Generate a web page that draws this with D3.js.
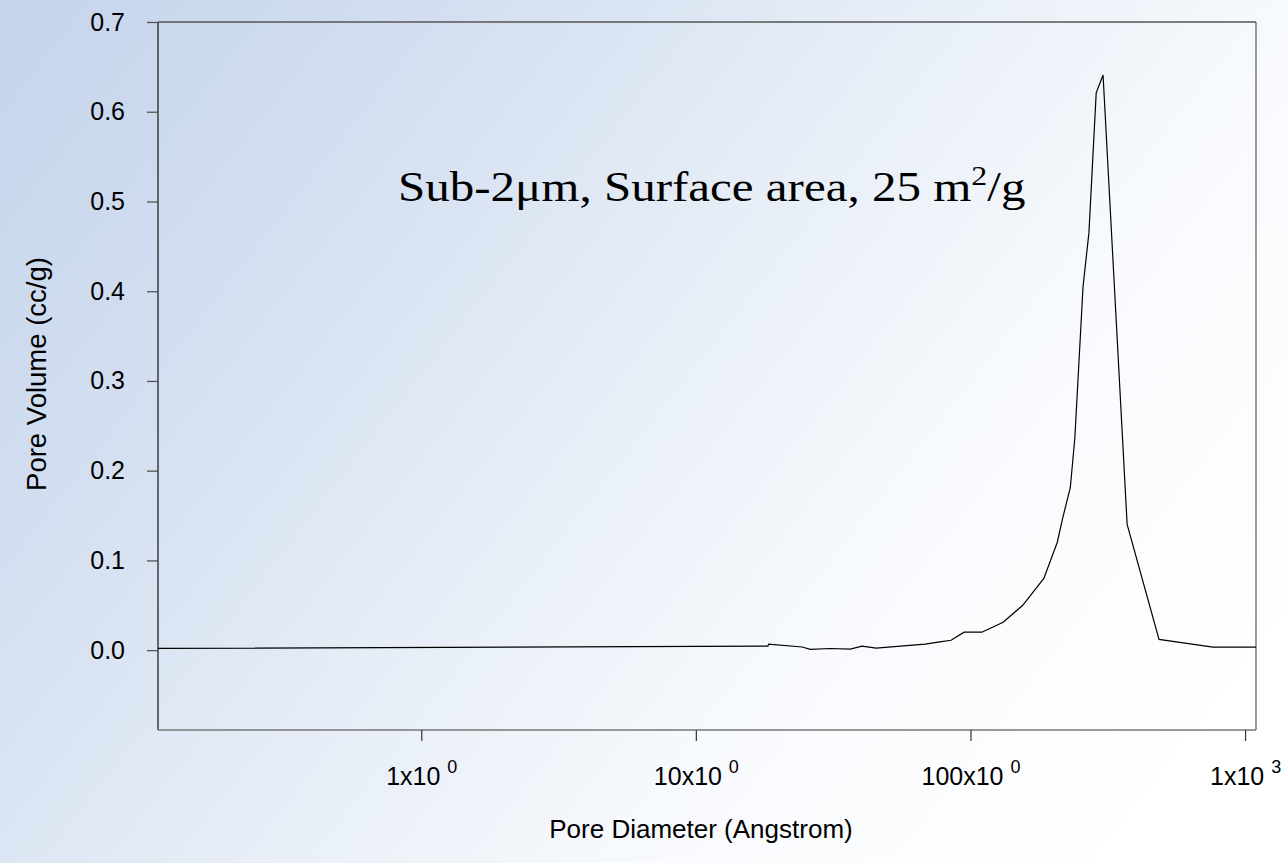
<!DOCTYPE html>
<html>
<head>
<meta charset="utf-8">
<script src="https://cdn.jsdelivr.net/npm/d3@7"></script>
<style>
  html, body { margin: 0; padding: 0; }
  body { width: 1288px; height: 863px; overflow: hidden; }
  svg { display: block; }
</style>
</head>
<body>
<svg id="chart" width="1288" height="863"></svg>
<script>
// Pore size distribution, pore diameter in Angstrom vs pore volume
const diameters = [0.11, 18.3, 18.4, 24.4, 26.1, 30.8, 36.5, 40.3, 45.3, 68.4, 76.2, 85.0, 94.8, 110, 131.5, 155, 185, 207, 217, 231, 240, 257, 270, 287, 304, 372, 486, 764, 1096];
const poreVolume = [0.0019, 0.0045, 0.0067, 0.0035, 0.0008, 0.0018, 0.0011, 0.0045, 0.0022, 0.0067, 0.009, 0.011, 0.020, 0.020, 0.031, 0.050, 0.080, 0.120, 0.148, 0.181, 0.237, 0.405, 0.465, 0.621, 0.641, 0.140, 0.012, 0.0033, 0.0033];

const yTicks = [0.0, 0.1, 0.2, 0.3, 0.4, 0.5, 0.6, 0.7];
const xTicks = [1, 10, 100, 1000];
const xTickMantissa = ["1x10", "10x10", "100x10", "1x10"];
const xTickExponent = ["0", "0", "0", "3"];

const xDomain = [0.11, 1096];
const yDomain = [-0.089, 0.7];

const svg = d3.select("#chart");
const W = 1288, H = 863;
const plot = { left: 158, right: 1256, top: 22, bottom: 730 };

// Background wash: soft blue in the upper left fading to white
const defs = svg.append("defs");
const grad = defs.append("linearGradient")
  .attr("id", "bg").attr("gradientUnits", "userSpaceOnUse")
  .attr("x1", 0).attr("y1", 0).attr("x2", 1100).attr("y2", 863);
[[0, "#c4d4ec"], [0.3, "#d6e1f1"], [0.55, "#eaf0f8"], [0.75, "#f8fafd"], [1, "#ffffff"]]
  .forEach(([o, c]) => grad.append("stop").attr("offset", o).attr("stop-color", c));
svg.append("rect").attr("width", W).attr("height", H).attr("fill", "url(#bg)");

const x = d3.scaleLog().domain(xDomain).range([plot.left, plot.right]);
const y = d3.scaleLinear().domain(yDomain).range([plot.bottom, plot.top]);

const font = "'Liberation Sans', Arial, sans-serif";

// Frame
svg.append("line").attr("x1", plot.left).attr("x2", plot.right).attr("y1", plot.top).attr("y2", plot.top)
  .attr("stroke", "#555").attr("stroke-width", 1.3);
svg.append("line").attr("x1", plot.right).attr("x2", plot.right).attr("y1", plot.top).attr("y2", plot.bottom)
  .attr("stroke", "#666").attr("stroke-width", 1.3);

// Y axis
const yAxis = d3.axisLeft(y).tickValues(yTicks).tickFormat(d3.format(".1f")).tickSize(11).tickPadding(22);
const gy = svg.append("g").attr("transform", `translate(${plot.left},0)`).call(yAxis);
gy.select(".domain").attr("stroke", "#222").attr("stroke-width", 1.3).attr("d", `M0,${plot.top}V${plot.bottom}`);
gy.selectAll(".tick line").attr("stroke", "#555").attr("stroke-width", 1.3);
gy.selectAll(".tick text").attr("font-family", font).attr("font-size", 25).attr("fill", "#000");

// X axis
const xAxis = d3.axisBottom(x).tickValues(xTicks).tickFormat(() => "").tickSize(11);
const gx = svg.append("g").attr("transform", `translate(0,${plot.bottom})`).call(xAxis);
gx.select(".domain").attr("stroke", "#777").attr("stroke-width", 1.6).attr("d", `M${plot.left},0H${plot.right}`);
gx.selectAll(".tick line").attr("stroke", "#333").attr("stroke-width", 1.2);
gx.selectAll(".tick").each(function (d, i) {
  const t = d3.select(this).append("text")
    .attr("y", 55).attr("text-anchor", "middle")
    .attr("font-family", font).attr("font-size", 25).attr("fill", "#000");
  t.append("tspan").text(xTickMantissa[i] + " ");
  t.append("tspan").attr("font-size", 18).attr("dy", -12).text(xTickExponent[i]);
});

// Axis titles
svg.append("text")
  .attr("transform", `translate(46,${(plot.top + plot.bottom) / 2 - 2}) rotate(-90)`)
  .attr("text-anchor", "middle").attr("font-family", font).attr("font-size", 27.5).attr("fill", "#000")
  .text("Pore Volume (cc/g)");
svg.append("text")
  .attr("x", 701).attr("y", 838)
  .attr("text-anchor", "middle").attr("font-family", font).attr("font-size", 26).attr("fill", "#000")
  .text("Pore Diameter (Angstrom)");

// Distribution curve
const line = d3.line().x((d, i) => x(diameters[i])).y(d => y(d));
svg.append("path").datum(poreVolume)
  .attr("d", line).attr("fill", "none").attr("stroke", "#000").attr("stroke-width", 1.2);

// Annotation (serif, set slightly wide)
const note = svg.append("text").attr("transform", "translate(398,201) scale(1.14,1)")
  .attr("font-family", "'Liberation Serif', 'Times New Roman', serif").attr("font-size", 43).attr("fill", "#000");
note.append("tspan").text("Sub-2μm, Surface area, 25 m");
note.append("tspan").attr("font-size", 28).attr("dy", -16).text("2");
note.append("tspan").attr("dy", 16).text("/g");
</script>
</body>
</html>
